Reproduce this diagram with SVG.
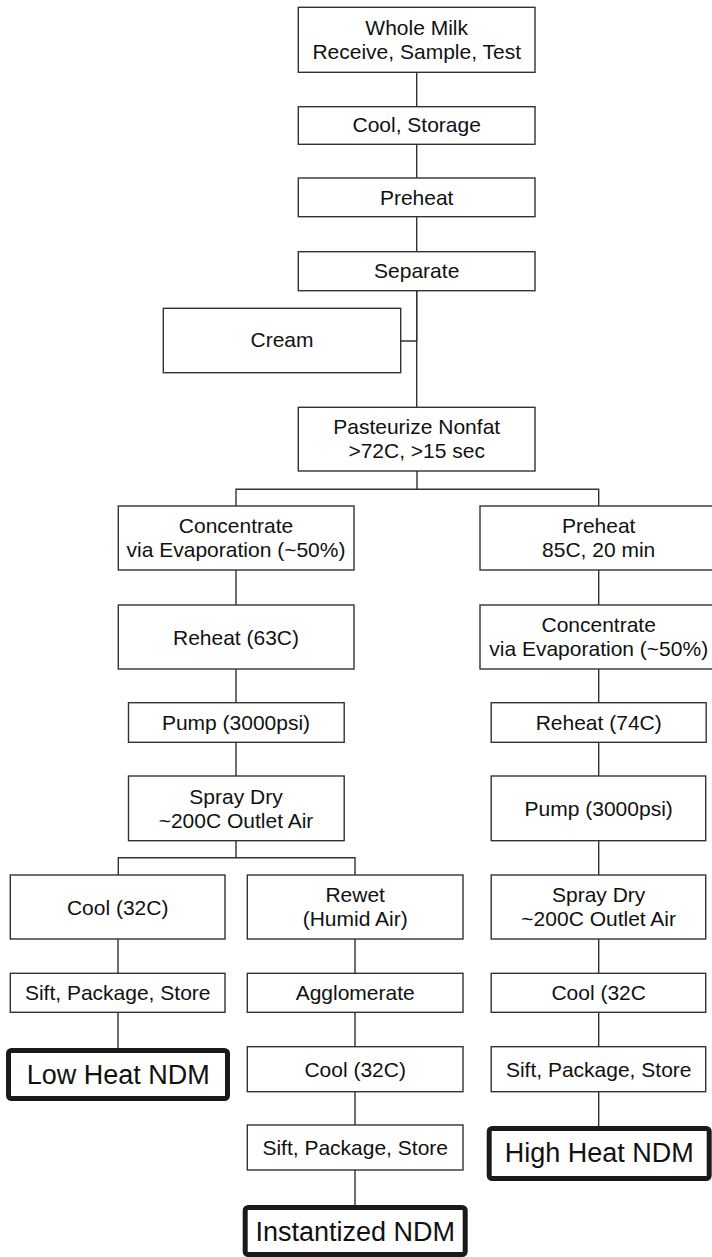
<svg xmlns="http://www.w3.org/2000/svg" width="712" height="1257" viewBox="0 0 712 1257">
  <style>
    .box { fill: #ffffff; stroke: #333333; stroke-width: 1.4; }
    .end { fill: #ffffff; stroke: #1a1a1a; stroke-width: 5; }
    .lbl { font-family: "Liberation Sans", Arial, Helvetica, sans-serif; font-size: 21px; fill: #111111; text-anchor: middle; }
    .big { font-family: "Liberation Sans", Arial, Helvetica, sans-serif; font-size: 27px; fill: #111111; text-anchor: middle; }
    .wire { fill: none; stroke: #333333; stroke-width: 1.4; }
  </style>
  <rect width="712" height="1257" fill="#ffffff"/>

  <!-- connectors -->
  <g id="connectors">
    <!-- main trunk -->
    <path class="wire" d="M416.7,72.3 V106.7 M416.7,144.3 V178 M416.7,216.7 V251.7 M416.7,290.7 V407.3"/>
    <!-- cream take-off -->
    <path class="wire" d="M416.7,290.7 V341 H400.7"/>
    <!-- split after pasteurizing -->
    <path class="wire" d="M417,471 V489.3 M236,506 V489.3 H598.7 V506"/>
    <!-- low heat / instant trunk -->
    <path class="wire" d="M236,570 V605 M236,669 V702.7 M236,742.3 V776 M236,840.7 V857.7 M118.3,875 V857.7 H355 V875"/>
    <!-- low heat branch -->
    <path class="wire" d="M118,939 V973.3 M118,1012.3 V1048"/>
    <!-- instantized branch -->
    <path class="wire" d="M355,939 V973.3 M355,1012.3 V1046.7 M355,1091.7 V1125 M355,1170 V1205"/>
    <!-- high heat branch -->
    <path class="wire" d="M598.7,570 V605 M598.7,669 V702.7 M598.7,742.3 V776 M598.7,840.7 V875 M598.7,939 V973.3 M598.7,1012.3 V1046.7 M598.7,1091.7 V1126"/>
  </g>

  <!-- common trunk -->
  <g id="whole-milk">
    <rect class="box" x="298.3" y="7.3" width="236.7" height="65"/>
    <text class="lbl" x="416.7" y="35">Whole Milk</text>
    <text class="lbl" x="416.7" y="59.3">Receive, Sample, Test</text>
  </g>
  <g id="cool-storage">
    <rect class="box" x="298.3" y="106.7" width="236.7" height="37.6"/>
    <text class="lbl" x="416.7" y="131.5">Cool, Storage</text>
  </g>
  <g id="preheat">
    <rect class="box" x="298.3" y="178" width="236.7" height="38.7"/>
    <text class="lbl" x="416.7" y="205">Preheat</text>
  </g>
  <g id="separate">
    <rect class="box" x="298.3" y="251.7" width="236.7" height="39"/>
    <text class="lbl" x="416.7" y="278">Separate</text>
  </g>
  <g id="cream">
    <rect class="box" x="163.3" y="308.3" width="237.4" height="64.4"/>
    <text class="lbl" x="282" y="347">Cream</text>
  </g>
  <g id="pasteurize">
    <rect class="box" x="298.3" y="407.3" width="236.7" height="63.7"/>
    <text class="lbl" x="416.7" y="433.5">Pasteurize Nonfat</text>
    <text class="lbl" x="416.7" y="457.5">&gt;72C, &gt;15 sec</text>
  </g>

  <!-- low heat / instantized line -->
  <g id="concentrate-a">
    <rect class="box" x="118.3" y="506" width="235.7" height="64"/>
    <text class="lbl" x="236" y="533.3">Concentrate</text>
    <text class="lbl" x="236" y="557.3">via Evaporation (~50%)</text>
  </g>
  <g id="reheat-a">
    <rect class="box" x="118.3" y="605" width="235.7" height="64"/>
    <text class="lbl" x="236" y="644.5">Reheat (63C)</text>
  </g>
  <g id="pump-a">
    <rect class="box" x="128.5" y="702.7" width="215.7" height="39.6"/>
    <text class="lbl" x="236" y="730">Pump (3000psi)</text>
  </g>
  <g id="spray-a">
    <rect class="box" x="128.5" y="776" width="215.7" height="64.7"/>
    <text class="lbl" x="236" y="803.5">Spray Dry</text>
    <text class="lbl" x="236" y="827.5">~200C Outlet Air</text>
  </g>
  <g id="cool-a">
    <rect class="box" x="10.3" y="875" width="214.7" height="64"/>
    <text class="lbl" x="117.7" y="914.5">Cool (32C)</text>
  </g>
  <g id="sift-a">
    <rect class="box" x="10.3" y="973.3" width="214.7" height="39"/>
    <text class="lbl" x="117.7" y="1000">Sift, Package, Store</text>
  </g>
  <g id="low-heat">
    <rect class="end" x="8.5" y="1050.5" width="219" height="48" rx="3"/>
    <text class="big" x="118.3" y="1083.5">Low Heat NDM</text>
  </g>
  <g id="rewet">
    <rect class="box" x="247.3" y="875" width="215.7" height="64"/>
    <text class="lbl" x="355.2" y="902">Rewet</text>
    <text class="lbl" x="355.2" y="926">(Humid Air)</text>
  </g>
  <g id="agglomerate">
    <rect class="box" x="247.3" y="973.3" width="215.7" height="39"/>
    <text class="lbl" x="355.2" y="1000">Agglomerate</text>
  </g>
  <g id="cool-b">
    <rect class="box" x="247.3" y="1046.7" width="215.7" height="45"/>
    <text class="lbl" x="355.2" y="1076.5">Cool (32C)</text>
  </g>
  <g id="sift-b">
    <rect class="box" x="247.3" y="1125" width="215.7" height="45"/>
    <text class="lbl" x="355.2" y="1155">Sift, Package, Store</text>
  </g>
  <g id="instantized">
    <rect class="end" x="245.2" y="1207.5" width="220" height="47" rx="3"/>
    <text class="big" x="355.2" y="1240.5">Instantized NDM</text>
  </g>

  <!-- high heat line -->
  <g id="preheat-c">
    <rect class="box" x="480" y="506" width="238" height="64"/>
    <text class="lbl" x="598.7" y="533.3">Preheat</text>
    <text class="lbl" x="598.7" y="557.3">85C, 20 min</text>
  </g>
  <g id="concentrate-c">
    <rect class="box" x="480" y="605" width="238" height="64"/>
    <text class="lbl" x="598.7" y="632.3">Concentrate</text>
    <text class="lbl" x="598.7" y="656.3">via Evaporation (~50%)</text>
  </g>
  <g id="reheat-c">
    <rect class="box" x="491.2" y="702.7" width="215" height="39.6"/>
    <text class="lbl" x="598.7" y="730">Reheat (74C)</text>
  </g>
  <g id="pump-c">
    <rect class="box" x="491.2" y="776" width="214.5" height="64.7"/>
    <text class="lbl" x="598.7" y="816">Pump (3000psi)</text>
  </g>
  <g id="spray-c">
    <rect class="box" x="491.2" y="875" width="214.5" height="64"/>
    <text class="lbl" x="598.7" y="902">Spray Dry</text>
    <text class="lbl" x="598.7" y="926">~200C Outlet Air</text>
  </g>
  <g id="cool-c">
    <rect class="box" x="491.2" y="973.3" width="214.5" height="39"/>
    <text class="lbl" x="598.7" y="1000">Cool (32C</text>
  </g>
  <g id="sift-c">
    <rect class="box" x="491.2" y="1046.7" width="214.5" height="45"/>
    <text class="lbl" x="598.7" y="1076.5">Sift, Package, Store</text>
  </g>
  <g id="high-heat">
    <rect class="end" x="489.2" y="1128.5" width="220" height="50" rx="3"/>
    <text class="big" x="599.2" y="1162">High Heat NDM</text>
  </g>
</svg>
